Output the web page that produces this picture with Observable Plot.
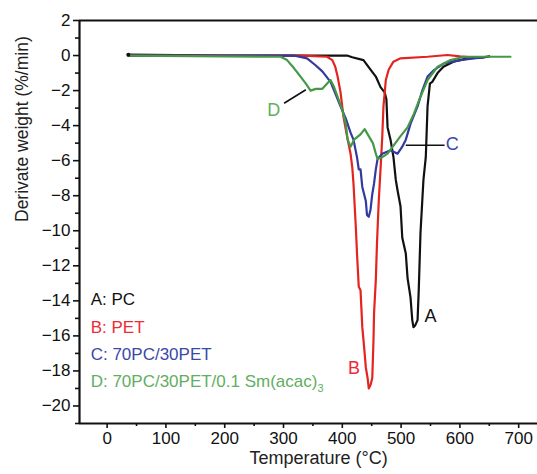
<!DOCTYPE html>
<html><head><meta charset="utf-8">
<script src="https://cdn.jsdelivr.net/npm/d3@7"></script>
<script src="https://cdn.jsdelivr.net/npm/@observablehq/plot@0.6"></script>
<style>
body{margin:0;background:#fff}
svg{font-family:"Liberation Sans",Arial,sans-serif;color:#111}
</style>
</head><body><div id="chart"></div>
<script>
// Temperature (°C), derivative weight (%/min)
const seriesA = [[36,0.05],[200,0],[300,0],[408,0],[417,-0.1],[436,-0.26],[448,-0.8],[457,-1.2],[465,-1.8],[472,-2.1],[475,-2.5],[477,-4.1],[482,-4.8],[487,-5.8],[491,-7.1],[494,-7.7],[499,-8.6],[502,-10.4],[508,-11.3],[511,-12.7],[516,-13.8],[519,-15.1],[521,-15.5],[524,-15.4],[528,-15.1],[530,-13.4],[533,-10.1],[536,-8.3],[538,-7.1],[542,-5.8],[545,-2.9],[549,-1.6],[553,-1.5],[562,-1.0],[572,-0.64],[589,-0.35],[613,-0.16],[640,-0.1],[650,-0.05]];
const seriesB = [[36,0],[300,0],[329,0],[374,-0.07],[383,-0.26],[388,-0.64],[392,-1.2],[397,-2.1],[402,-3.5],[408,-4.6],[414,-5.6],[417,-6.4],[419,-7.3],[423,-9.8],[425,-11.3],[428,-13.2],[431,-13.4],[434,-15.5],[437,-16.6],[440,-17.8],[443,-18.4],[445,-19.0],[448,-18.8],[451,-18.4],[453,-16.3],[454,-14.7],[457,-12.8],[459,-10.7],[462,-8.3],[465,-6.5],[468,-4.6],[470,-2.9],[474,-1.4],[479,-0.8],[487,-0.35],[499,-0.16],[545,-0.07],[579,0.03],[600,-0.05],[618,-0.1]];
const seriesC = [[36,0],[300,0],[317,0],[340,-0.16],[354,-0.54],[366,-0.9],[380,-1.5],[388,-2.15],[397,-2.9],[406,-3.6],[414,-4.4],[419,-4.8],[425,-5.8],[428,-6.5],[431,-6.5],[434,-7.5],[440,-8.3],[442,-9.1],[445,-9.2],[448,-8.8],[451,-7.9],[454,-7.3],[457,-6.5],[460,-5.9],[468,-5.6],[482,-5.4],[494,-5.6],[502,-5.2],[508,-4.8],[516,-3.9],[528,-2.9],[536,-2.0],[545,-1.2],[556,-0.83],[573,-0.45],[601,-0.26],[623,-0.16],[640,-0.1]];
const seriesD = [[36,0],[295,-0.07],[306,-0.26],[318,-0.73],[329,-1.2],[338,-1.6],[346,-2.0],[355,-1.9],[366,-1.9],[377,-1.5],[380,-1.4],[386,-1.8],[393,-2.45],[400,-3.1],[406,-3.9],[409,-4.8],[414,-5.2],[420,-4.8],[431,-4.5],[438,-4.2],[445,-4.6],[452,-5.0],[457,-5.6],[460,-5.9],[468,-5.8],[477,-5.6],[488,-5.1],[499,-4.6],[511,-4.1],[522,-3.3],[533,-2.35],[545,-1.4],[562,-0.64],[584,-0.26],[607,-0.07],[686,-0.07]];

const xTicks = [0,100,200,300,400,500,600,700];
const xMinorTicks = [50,150,250,350,450,550,650];
const yTicks = [-20,-18,-16,-14,-12,-10,-8,-6,-4,-2,0,2];
const yMinorTicks = [-21,-19,-17,-15,-13,-11,-9,-7,-5,-3,-1,1];

const legendItems = ["A: PC","B: PET","C: 70PC/30PET","D: 70PC/30PET/0.1 Sm(acac)\u2083"];
const legendY = [-13.9,-15.5,-17.05,-18.6];
const colors = {A:"#111111",B:"#e3241f",C:"#3239a0",D:"#469846"};
const textColors = ["#111111","#ee2a36","#3a48a8","#62ae62"];

const annotations = [
  {label:"A", x:550, y:-14.85, c:"#111111"},
  {label:"B", x:420, y:-17.85, c:"#ee2a36"},
  {label:"C", x:587, y:-5.06, c:"#3a48a8"},
  {label:"D", x:283.5, y:-3.12, c:"#62ae62"}
];
const leaders = [
  {x1:508, y1:-5.12, x2:574, y2:-5.12, dash:null},
  {x1:301, y1:-2.72, x2:338, y2:-1.95, dash:"2,1.5"}
];

const fx = d => d[0], fy = d => d[1];
const chart = Plot.plot({
  width: 537, height: 474,
  marginLeft: 79, marginRight: 0, marginTop: 20, marginBottom: 51,
  x: {domain: [-47, 732]},
  y: {domain: [-21, 2]},
  marks: [
    Plot.axisX(xTicks, {tickSize: 5, tickPadding: 3, strokeWidth: 1.6, fontSize: 17, tickFormat: d3.format("d"), label: null}),
    Plot.axisX(xMinorTicks, {tickSize: 3, strokeWidth: 1.6, tickFormat: () => "", label: null}),
    Plot.axisY(yTicks, {tickSize: 6, tickPadding: 3, strokeWidth: 1.6, fontSize: 17, tickFormat: d3.format("d"), label: null}),
    Plot.axisY(yMinorTicks, {tickSize: 4, strokeWidth: 1.6, tickFormat: () => "", label: null}),
    Plot.ruleY([-21], {strokeWidth: 2.2, stroke: "#111"}),
    Plot.ruleY([2], {strokeWidth: 2.2, stroke: "#111"}),
    Plot.ruleX([-47], {strokeWidth: 2.2, stroke: "#111"}),
    Plot.line(seriesA, {x: fx, y: fy, stroke: colors.A, strokeWidth: 2.2}),
    Plot.line(seriesB, {x: fx, y: fy, stroke: colors.B, strokeWidth: 2.2}),
    Plot.line(seriesC, {x: fx, y: fy, stroke: colors.C, strokeWidth: 2.2}),
    Plot.line(seriesD, {x: fx, y: fy, stroke: colors.D, strokeWidth: 2.2}),
    Plot.dot(seriesA.slice(0, 1), {x: fx, y: fy, r: 2, fill: "#111"}),
    Plot.link(leaders, {x1: "x1", y1: "y1", x2: "x2", y2: "y2", stroke: "#111", strokeWidth: 1.6, strokeDasharray: d => d.dash}),
    Plot.text(annotations, {x: "x", y: "y", text: "label", fill: "c", fontSize: 18}),
    Plot.text(legendItems, {x: -28, y: (d, i) => legendY[i], text: d => d, fill: (d, i) => textColors[i], textAnchor: "start", fontSize: 17}),
    Plot.text(["Temperature (\u00B0C)"], {frameAnchor: "bottom", dx: 10, dy: 40, fontSize: 18, fill: "#222"}),
    Plot.text(["Derivate weight (%/min)"], {frameAnchor: "left", dx: -57, rotate: -90, fontSize: 17.5, fill: "#222"})
  ]
});
// subscript for the "3" in Sm(acac)3
chart.querySelectorAll("text").forEach(t => {
  if (t.textContent.endsWith("\u2083")) {
    const base = t.textContent.slice(0, -1);
    t.textContent = base;
    const s = document.createElementNS("http://www.w3.org/2000/svg", "tspan");
    s.setAttribute("font-size", "11");
    s.setAttribute("dy", "5");
    s.textContent = "3";
    t.appendChild(s);
  }
});
document.getElementById("chart").appendChild(chart);
</script>
</body></html>
